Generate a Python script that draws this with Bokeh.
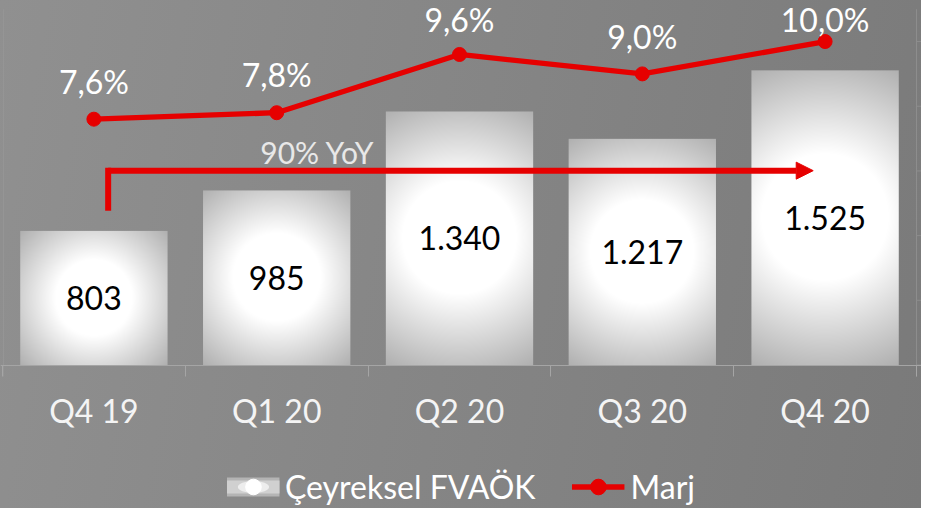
import numpy as np
from bokeh.plotting import figure
from bokeh.models import (Range1d, LinearAxis, FixedTicker, Legend, LegendItem,
                          Arrow, NormalHead, ColumnDataSource)
from bokeh.core.properties import value
from bokeh.embed import file_html
from bokeh.resources import INLINE

# ---------------- data ----------------
categories = ["Q4 19", "Q1 20", "Q2 20", "Q3 20", "Q4 20"]
fvaok = [803, 985, 1340, 1217, 1525]
marj = [7.6, 7.8, 9.6, 9.0, 10.0]
bar_series_name = "Çeyreksel FVAÖK"
line_series_name = "Marj"

# ---------------- layout / style ----------------
W, H = 921, 508
AXIS_PX = 364.5          # pixel row of the category axis
TOP_PX = 8.7             # pixel row of the value-axis maximum
Y_MIN, Y_MAX = 200, 1800
M_MIN, M_MAX = 0, 11
CAT_PX0, CAT_STEP = 93.4, 182.8
BAR_W = 0.806
FONT = value("Lato")
RED = "#e60000"

px_per_y = (AXIS_PX - TOP_PX) / (Y_MAX - Y_MIN)
px_per_m = (AXIS_PX - TOP_PX) / (M_MAX - M_MIN)
x_start = -CAT_PX0 / CAT_STEP
x_end = (W - CAT_PX0) / CAT_STEP
y_lo = Y_MIN - (H - AXIS_PX) / px_per_y
y_hi = Y_MAX + TOP_PX / px_per_y
m_lo = M_MIN - (H - AXIS_PX) / px_per_m
m_hi = M_MAX + TOP_PX / px_per_m

p = figure(width=W, height=H, output_backend="svg", toolbar_location=None,
           x_range=Range1d(x_start, x_end), y_range=Range1d(y_lo, y_hi),
           x_axis_location=None, y_axis_location=None,
           min_border_left=0, min_border_right=0, min_border_top=0, min_border_bottom=0)
p.extra_y_ranges = {"marj": Range1d(m_lo, m_hi)}
p.background_fill_alpha = 0
p.border_fill_alpha = 0
p.outline_line_color = None
p.grid.visible = False
p.styles = {"background": "linear-gradient(100deg, #909090 0%, #858585 50%, #7a7a7a 100%)"}

xs = list(range(len(categories)))

# ---------------- bars (radial gradient images) ----------------
imgs = []
for v in fvaok:
    hpx = max(2, int(round((v - Y_MIN) * px_per_y)))
    wpx = int(round(BAR_W * CAT_STEP))
    yy, xx = np.mgrid[0:hpx, 0:wpx]
    dx = xx + 0.5 - wpx / 2
    dy = yy + 0.5 - hpx / 2
    r = np.hypot(dx, dy) / np.hypot(wpx / 2, hpx / 2)
    t = np.clip((r - 0.39) / 0.61, 0, 1)
    g = (255 - 79 * t).astype(np.uint8)
    rgba = np.empty((hpx, wpx, 4), dtype=np.uint8)
    rgba[..., 0] = g
    rgba[..., 1] = g
    rgba[..., 2] = g
    rgba[..., 3] = 255
    imgs.append(rgba.view(np.uint32).reshape(hpx, wpx))

bar_src = ColumnDataSource(dict(
    image=imgs,
    x=[i - BAR_W / 2 for i in xs],
    y=[Y_MIN] * len(xs),
    dw=[BAR_W] * len(xs),
    dh=[v - Y_MIN for v in fvaok],
))
p.image_rgba(image="image", x="x", y="y", dw="dw", dh="dh", source=bar_src)

bar_labels = [f"{v:,}".replace(",", ".") for v in fvaok]
p.text(x=xs, y=[(Y_MIN + v) / 2 for v in fvaok], text=bar_labels,
       text_align="center", text_baseline="middle", text_color="black",
       text_font=FONT, text_font_size=value("32px"))

# ---------------- YoY arrow ----------------
growth = round((fvaok[-1] / fvaok[0] - 1) * 100)
yoy_text = f"{growth}% YoY"
ARROW_LEVEL = 1074
ARROW_BASE = 907
YOY_TEXT_Y = 1156
ax0 = xs[0] + 0.078
ax1 = xs[-1] - 0.065
p.text(x=[1.223], y=[YOY_TEXT_Y], text=[yoy_text], text_align="center",
       text_baseline="alphabetic", text_color="#e8e8e8",
       text_font=FONT, text_font_size=value("30px"))
p.segment(x0=[ax0], y0=[ARROW_BASE], x1=[ax0], y1=[ARROW_LEVEL],
          line_width=6, line_color=RED, line_cap="square")
p.add_layout(Arrow(end=NormalHead(size=17, fill_color=RED, line_color=RED),
                   x_start=ax0, y_start=ARROW_LEVEL, x_end=ax1, y_end=ARROW_LEVEL,
                   line_color=RED, line_width=6))

# ---------------- margin line ----------------
line_r = p.line(xs, marj, y_range_name="marj", line_color=RED, line_width=5.3)
pts_r = p.scatter(xs, marj, y_range_name="marj", size=14, fill_color=RED, line_color=RED)

pct_labels = [f"{v:.1f}".replace(".", ",") + "%" for v in marj]
pct_y = [min(v + 37.8 / px_per_m, m_hi - 19 / px_per_m) for v in marj]
p.text(x=xs, y=pct_y, text=pct_labels, y_range_name="marj",
       text_align="center", text_baseline="middle", text_color="white",
       text_font=FONT, text_font_size=value("32px"))

# ---------------- faint value-axis lines ----------------
AX_COL = "#8d8d8d"
right_x = len(xs) - 0.5
left_x = x_start + 3 / CAT_STEP
p.segment(x0=[right_x], y0=[M_MIN - 11.5 / px_per_m], x1=[right_x], y1=[M_MAX],
          y_range_name="marj", line_color=AX_COL, line_width=1)
p.segment(x0=[left_x], y0=[M_MIN - 11.5 / px_per_m], x1=[left_x], y1=[M_MAX],
          y_range_name="marj", line_color="#959595", line_width=1)
rticks = [0, 2, 4, 6, 8, 10]
p.segment(x0=[right_x] * len(rticks), y0=rticks,
          x1=[right_x + 5 / CAT_STEP] * len(rticks), y1=rticks,
          y_range_name="marj", line_color=AX_COL, line_width=1)

# ---------------- category axis ----------------
ax = LinearAxis(fixed_location=Y_MIN)
ax.ticker = FixedTicker(ticks=xs, minor_ticks=[i - 0.5 for i in range(len(xs) + 1)])
ax.major_label_overrides = {i: c for i, c in zip(xs, categories)}
ax.major_tick_out = 0
ax.major_tick_in = 0
ax.minor_tick_out = 11
ax.minor_tick_in = 0
ax.minor_tick_line_color = "#a5a5a5"
ax.axis_line_color = "#a5a5a5"
ax.major_label_text_font = "Lato"
ax.major_label_text_font_size = "32px"
ax.major_label_text_color = "#f4f4f4"
ax.major_label_standoff = 15
p.add_layout(ax, "below")

# ---------------- legend (swatch renderers sit outside the visible range) ----------------
off = [x_start - 10, x_start - 9]
sw1 = p.line(off, [0, 0], line_width=19, line_color="#b4b4b4", line_cap="butt")
sw2 = p.line(off, [0, 0], line_width=13, line_color="#d0d0d0", line_cap="butt")
sw3 = p.ellipse(x=off[:1], y=[0], width=[0.1], height=[7 / px_per_y * 1.0],
                fill_color="#ededed", line_color=None)
sw4 = p.scatter(off[:1], [0], size=16, fill_color="white", line_color="white")

legend = Legend(items=[LegendItem(label=bar_series_name, renderers=[sw1, sw2, sw3, sw4]),
                       LegendItem(label=line_series_name, renderers=[line_r, pts_r])],
                location="bottom_center", orientation="horizontal",
                glyph_width=53, glyph_height=39, label_standoff=6, spacing=36,
                padding=0, margin=2, background_fill_alpha=0, border_line_alpha=0,
                label_text_font="Lato", label_text_font_size="32px",
                label_text_color="white")
p.add_layout(legend)

open("out.html", "w").write(file_html(p, INLINE))
